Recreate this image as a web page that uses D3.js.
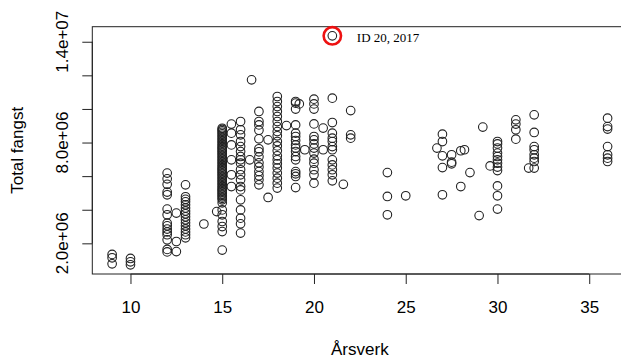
<!DOCTYPE html>
<html>
<head>
<meta charset="utf-8">
<script src="https://cdn.jsdelivr.net/npm/d3@7"></script>
<style>
  html, body { margin: 0; padding: 0; background: #fff; }
  svg { display: block; }
  .lbl { font-family: "Liberation Sans", Arial, Helvetica, sans-serif; font-size: 17px; fill: #000; }
</style>
</head>
<body>
<svg id="chart" width="621" height="360"></svg>
<script>
// Årsverk per observation group (x) and the catches recorded at each (millions)
const arsverk = [9, 10, 12, 12.5, 13, 14, 14.7, 15, 15.5, 16, 16.5, 16.6, 17, 17.5, 18, 18.5,
  19, 19.2, 19.5, 20, 20.5, 21, 21.6, 22, 24, 25, 26.7, 27, 27.5, 28, 28.2, 28.5, 29, 29.2,
  29.6, 30, 31, 31.7, 32, 36];

const fangstMill = [
  [1.34, 1.14, 0.78],
  [1.10, 0.90, 0.72],
  [6.18, 5.84, 5.51, 5.05, 4.89, 4.04, 3.70, 3.20, 3.04, 2.85, 2.68, 2.51, 2.21, 1.64, 1.49],
  [3.80, 2.11, 1.51],
  [5.48, 4.77, 4.62, 4.47, 4.29, 4.11, 3.93, 3.76, 3.58, 3.40, 3.22, 3.04, 2.86, 2.68, 2.51, 2.33],
  [3.15],
  [3.89],
  [8.85, 8.78, 8.70, 8.61, 8.52, 8.43, 8.34, 8.25, 8.16, 8.07, 7.98, 7.89, 7.80, 7.71, 7.63, 7.54,
   7.45, 7.36, 7.27, 7.18, 7.09, 7.00, 6.91, 6.82, 6.73, 6.64, 6.55, 6.46, 6.38, 6.29, 6.20, 6.11,
   6.02, 5.93, 5.84, 5.75, 5.66, 5.57, 5.48, 5.39, 5.30, 5.21, 5.13, 5.04, 4.95, 4.86, 4.77, 4.68,
   4.59, 4.41, 3.99, 3.70, 3.30, 3.00, 2.70, 1.60],
  [9.10, 8.56, 7.86, 6.97, 6.08, 5.38],
  [9.25, 8.76, 8.46, 8.06, 7.76, 7.46, 7.17, 6.97, 6.77, 6.38, 6.08, 5.78, 5.38, 5.18, 4.59, 3.99,
   3.50, 3.16, 2.61],
  [6.97],
  [11.73],
  [9.85, 9.25, 9.05, 8.73, 8.22, 7.63, 7.45, 7.15, 6.79, 6.55, 6.27, 6.02, 5.78, 5.48],
  [8.16, 4.73],
  [10.74, 10.44, 10.14, 9.85, 9.55, 9.25, 8.95, 8.65, 8.40, 8.06, 7.80, 7.51, 7.21, 6.97, 6.73,
   6.48, 6.18, 5.88, 5.58, 5.29],
  [9.01],
  [10.44, 10.35, 9.99, 9.05, 8.56, 8.36, 8.12, 7.86, 7.67, 7.46, 7.17, 6.97, 6.27, 6.14, 5.98, 5.32],
  [10.30],
  [7.57],
  [10.58, 10.30, 9.99, 9.11, 8.36, 8.16, 7.92, 7.67, 7.37, 7.01, 6.77, 6.38, 6.08, 5.58],
  [8.86, 7.57],
  [14.35, 10.64, 9.19, 8.56, 8.26, 8.06, 7.76, 7.57, 6.97, 6.67, 6.38, 6.08, 5.72],
  [5.51],
  [9.90, 8.46, 8.26],
  [6.21, 4.79, 3.70],
  [4.83],
  [7.67],
  [8.50, 8.06, 7.21, 6.51, 4.89],
  [7.27, 6.83, 6.73],
  [7.51, 5.38],
  [7.57],
  [6.21],
  [3.65],
  [8.92],
  [6.61],
  [8.06, 7.92, 7.67, 7.37, 7.17, 6.97, 6.77, 6.54, 6.33, 5.42, 4.83, 4.04],
  [9.35, 9.10, 8.76, 8.20],
  [6.48],
  [9.65, 8.60, 7.76, 7.57, 7.27, 7.07, 6.87, 6.48],
  [9.45, 8.95, 8.80, 7.76, 7.27, 7.07, 6.87]
];

// Flagged observation
const markArsverk = 21;
const markFangstMill = 14.35;
const markLabel = "ID 20, 2017";

const xTicks = [10, 15, 20, 25, 30, 35];
const yTicks = [2e6, 4e6, 6e6, 8e6, 1e7, 1.2e7, 1.4e7];
const yTickLabels = ["2.0e+06", "", "", "8.0e+06", "", "", "1.4e+07"];
const xTitle = "Årsverk";
const yTitle = "Total fangst";

const points = [];
arsverk.forEach((a, i) => fangstMill[i].forEach(v => points.push({ x: a, y: v * 1e6 })));

const svg = d3.select("#chart");
const plot = { left: 92.3, top: 26.7, right: 627.4, bottom: 274 };

// R-style 4% padding of the data range
function padded(ext) {
  const d = (ext[1] - ext[0]) * 0.04;
  return [ext[0] - d, ext[1] + d];
}
const x = d3.scaleLinear().domain(padded(d3.extent(points, d => d.x))).range([plot.left, plot.right]);
const y = d3.scaleLinear().domain(padded(d3.extent(points, d => d.y))).range([plot.bottom, plot.top]);

const axisColor = "#222";

// x axis
const gx = svg.append("g").attr("transform", `translate(0,${plot.bottom})`)
  .call(d3.axisBottom(x).tickValues(xTicks).tickSize(10).tickSizeOuter(0).tickPadding(17).tickFormat(d3.format("d")));
gx.select(".domain").attr("d", `M${x(xTicks[0])},0H${x(xTicks[xTicks.length - 1])}`).attr("stroke", axisColor);
gx.selectAll(".tick line").attr("stroke", axisColor);
gx.selectAll(".tick text").attr("class", "lbl").attr("fill", "#000");

// y axis
const gy = svg.append("g").attr("transform", `translate(${plot.left},0)`)
  .call(d3.axisLeft(y).tickValues(yTicks).tickSize(10).tickSizeOuter(0).tickFormat(""));
gy.select(".domain").attr("d", `M0,${y(yTicks[0])}V${y(yTicks[yTicks.length - 1])}`).attr("stroke", axisColor);
gy.selectAll(".tick line").attr("stroke", axisColor);

svg.append("g").selectAll("text")
  .data(yTicks.map((t, i) => ({ t, s: yTickLabels[i] })).filter(d => d.s))
  .join("text")
  .attr("class", "lbl")
  .attr("text-anchor", "middle")
  .attr("transform", d => `translate(68.3,${y(d.t)}) rotate(-90)`)
  .text(d => d.s);

// plot frame
svg.append("rect")
  .attr("x", plot.left).attr("y", plot.top)
  .attr("width", plot.right - plot.left).attr("height", plot.bottom - plot.top)
  .attr("fill", "none").attr("stroke", axisColor).attr("stroke-width", 1);

// axis titles
svg.append("text").attr("class", "lbl").attr("text-anchor", "middle")
  .attr("x", (plot.left + plot.right) / 2).attr("y", 355).text(xTitle);
svg.append("text").attr("class", "lbl").attr("text-anchor", "middle")
  .attr("transform", `translate(22.5,${(plot.top + plot.bottom) / 2}) rotate(-90)`).text(yTitle);

// points (open circles)
svg.append("g").selectAll("circle")
  .data(points)
  .join("circle")
  .attr("cx", d => x(d.x))
  .attr("cy", d => y(d.y))
  .attr("r", 4.3)
  .attr("fill", "none")
  .attr("stroke", "#222")
  .attr("stroke-width", 1.1);

// flagged observation: red ring and label
svg.append("circle")
  .attr("cx", x(markArsverk)).attr("cy", y(markFangstMill * 1e6))
  .attr("r", 8.7).attr("fill", "none").attr("stroke", "#ee1111").attr("stroke-width", 2.6);
svg.append("text")
  .attr("x", x(markArsverk) + 24.5).attr("y", y(markFangstMill * 1e6) + 6)
  .attr("font-family", "'Liberation Serif', 'Times New Roman', serif")
  .attr("font-size", 13).attr("fill", "#000")
  .text(markLabel);
</script>
</body>
</html>
